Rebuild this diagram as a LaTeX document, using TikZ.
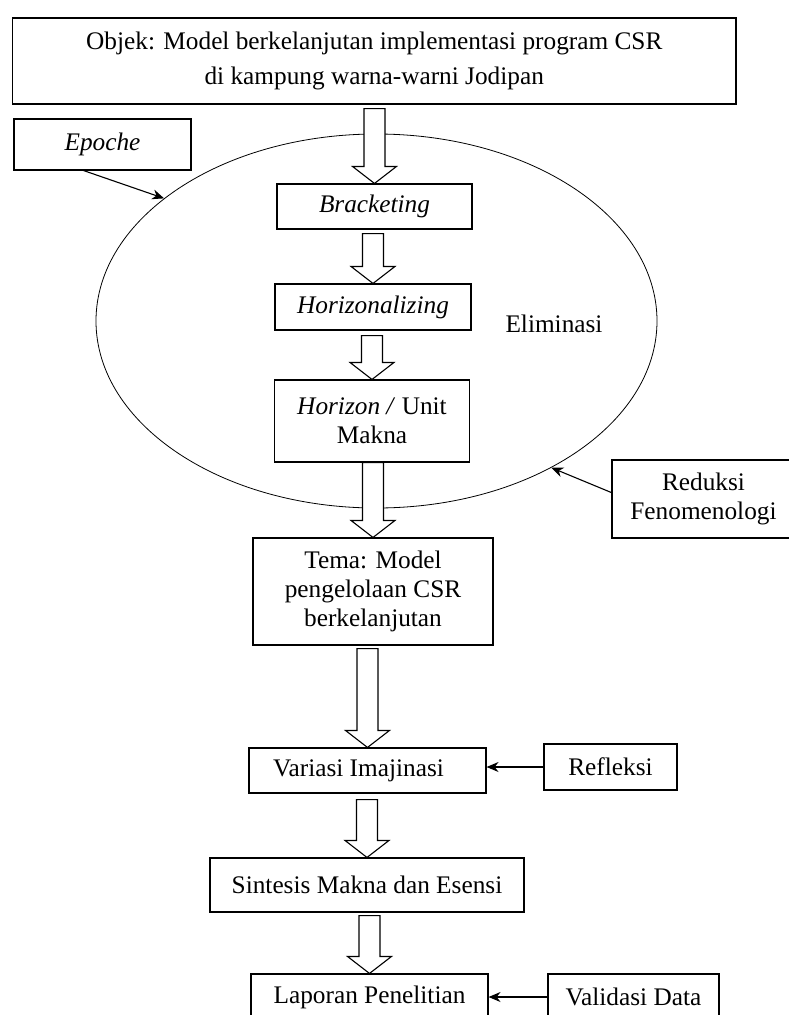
\documentclass[tikz,border=0pt]{standalone}
\usepackage{fontspec}
\setmainfont{Liberation Serif}
\usetikzlibrary{arrows.meta,shapes.geometric,calc}

% open block arrow from the bottom of #2 down to the top of #3
\newcommand{\hollowarrow}[3][4]{%
  \draw[hollow] ($(#2.south -| #3.north)+(-10.5,#1)$) -- ($(#3.north)+(-10.5,-17)$)
    -- ($(#3.north)+(-22,-17)$) -- (#3.north) -- ($(#3.north)+(22,-17)$)
    -- ($(#3.north)+(10.5,-17)$) -- ($(#2.south -| #3.north)+(10.5,#1)$) -- cycle;}

\begin{document}
\begin{tikzpicture}[x=1pt,y=-1pt,>={Stealth[length=12pt,width=10pt]},
                    font=\fontsize{25.3}{29}\selectfont,
                    box/.style={draw,line width=1.1pt,inner sep=0pt,align=center},
                    hollow/.style={draw,fill=white,line width=1.1pt},
                    link/.style={->,line width=1.1pt}]

  \useasboundingbox (0,0) rectangle (789,1015);
  \clip (0,0) rectangle (789,1015);

  \node[box,minimum width=723.5,minimum height=86] (obj) at (374.25,61)
       {Objek: Model berkelanjutan implementasi program CSR\\[6pt]di kampung warna-warni Jodipan};
  \node[box,minimum width=177,minimum height=51]   (epoche) at (102.5,144.5) {\textit{Epoche}};

  \node[ellipse,draw,line width=0.8pt,minimum width=561,minimum height=374,inner sep=0pt]
       (elim) at (376.5,321) {};
  \node (elimtext) at (554,324) {Eliminasi};

  \node[box,minimum width=195,minimum height=45]  (brack)   at (374.5,206.5) {\textit{Bracketing}};
  \node[box,minimum width=196,minimum height=46]  (horiz)   at (373,307)     {\textit{Horizonalizing}};
  \node[box,minimum width=195,minimum height=82]  (horizon) at (372,421)     {\textit{Horizon /} Unit\\Makna};
  \node[box,minimum width=240,minimum height=107] (tema)    at (373,591.5)   {Tema: Model\\pengelolaan CSR\\berkelanjutan};
  \node[box,minimum width=183,minimum height=78]  (reduksi) at (703.5,499)   {Reduksi\\Fenomenologi};
  \node[box,minimum width=237,minimum height=45]  (var)     at (367.5,770.5) {Variasi Imajinasi\hspace*{18pt}};
  \node[box,minimum width=133,minimum height=46]  (refl)    at (610.5,767)   {Refleksi};
  \node[box,minimum width=314,minimum height=54]  (sint)    at (367,885)     {Sintesis Makna dan Esensi};
  \node[box,minimum width=237,minimum height=46]  (lap)     at (369.5,997)   {Laporan Penelitian};
  \node[box,minimum width=171,minimum height=46]  (valid)   at (633.5,997)   {Validasi Data};

  \draw[link] (epoche.234) -- (elim.150);
  \draw[link] (reduksi.176) -- (elim.320);
  \draw[link] (refl.west) -- (refl.west -| var.east);
  \draw[link] (valid.west) -- (valid.west -| lap.east);

  \hollowarrow{obj}{brack}
  \hollowarrow{brack}{horiz}
  \hollowarrow[5]{horiz}{horizon}
  \hollowarrow[0]{horizon}{tema}
  \hollowarrow[3]{tema}{var}
  \hollowarrow[6]{var}{sint}
  \hollowarrow[3]{sint}{lap}
\end{tikzpicture}
\end{document}
